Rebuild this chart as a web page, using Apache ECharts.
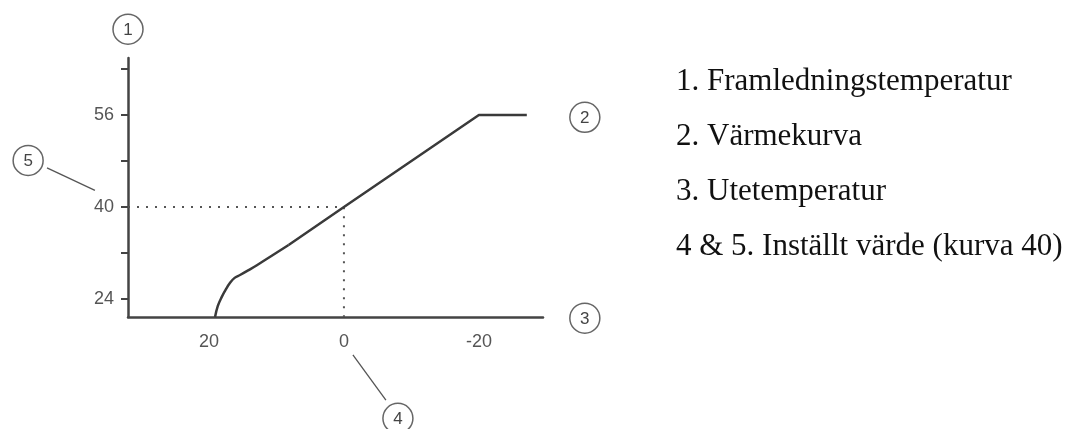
<!DOCTYPE html>
<html>
<head>
<meta charset="utf-8">
<script src="https://cdn.jsdelivr.net/npm/echarts@6/dist/echarts.min.js"></script>
<style>
  html, body { margin: 0; padding: 0; background: #fff; }
  #chart { width: 1080px; height: 429px; }
</style>
</head>
<body>
<div id="chart"></div>
<script>
// Outdoor temperature (°C) vs. flow temperature (°C) for heating curve 40
// Lower, curved section (warm weather)
const bendOutdoor = [19.1, 18.7, 18.1, 17.5, 16.9, 16.2, 15.4, 14.2, 12.9, 8.2];
const bendFlow    = [20.9, 22.8, 24.4, 25.7, 26.8, 27.7, 28.2, 29.0, 29.9, 33.4];
// Straight section up to the 56 °C limit
const lineOutdoor = [8.2, 0, -20, -27.1];
const lineFlow    = [33.4, 40, 56, 56];

// Set point: 40 °C flow at 0 °C outdoor
const setOutdoor = 0;
const setFlow = 40;

// Axis ranges and ticks
const xMin = -29.5, xMax = 32;
const yMin = 20.9, yMax = 65.9;
const xLabelValues = [20, 0, -20];
const yTickValues = [24, 32, 40, 48, 56, 64];
const yLabelValues = [24, 40, 56];

// Numbered callouts: position, number, optional leader line (data units)
const calloutNumbers = ['1', '2', '3', '4', '5'];
const calloutX = [32.0, -35.7, -35.7, -8.0, 46.8];
const calloutY = [70.9, 55.6, 20.7, 3.3, 48.1];
const leaderFrom = [null, null, null, [-1.33, 14.3], [44.0, 46.8]];
const leaderTo   = [null, null, null, [-6.22, 6.45], [36.9, 42.9]];

// Legend text on the right
const legendLines = [
  '1. Framledningstemperatur',
  '2. Värmekurva',
  '3. Utetemperatur',
  '4 & 5. Inställt värde (kurva 40)'
];

const chart = echarts.init(document.getElementById('chart'), null, { renderer: 'canvas' });

const axisColor = '#444';
const labelFont = { fontFamily: 'Liberation Sans, Arial, sans-serif', fontSize: 18, color: '#555' };
const curveStyle = { color: '#3a3a3a', width: 2.5 };

const bendData = bendOutdoor.map((x, i) => [x, bendFlow[i]]);
const lineData = lineOutdoor.map((x, i) => [x, lineFlow[i]]);
const guideData = [[xMax, setFlow], [setOutdoor, setFlow], [setOutdoor, yMin]];
const calloutData = calloutNumbers.map((n, i) => [calloutX[i], calloutY[i], i]);

chart.setOption({
  animation: false,
  backgroundColor: '#fff',
  grid: { left: 128, right: 537, top: 58, bottom: 112, containLabel: false },
  xAxis: {
    type: 'value',
    inverse: true,
    min: xMin,
    max: xMax,
    axisLine: { show: true, onZero: false, lineStyle: { color: axisColor, width: 2.5 } },
    axisTick: { show: false },
    splitLine: { show: false },
    axisLabel: {
      customValues: xLabelValues,
      margin: 16,
      ...labelFont
    }
  },
  yAxis: {
    type: 'value',
    min: yMin,
    max: yMax,
    axisLine: { show: true, onZero: false, lineStyle: { color: axisColor, width: 2.5 } },
    axisTick: {
      show: true,
      customValues: yTickValues,
      length: 7,
      lineStyle: { color: axisColor, width: 2 }
    },
    splitLine: { show: false },
    axisLabel: {
      customValues: yLabelValues,
      margin: 14,
      ...labelFont
    }
  },
  graphic: legendLines.map((t, i) => ({
    type: 'text',
    left: 676,
    top: 66 + i * 55,
    style: {
      text: t,
      font: '31px "Liberation Serif", "Times New Roman", serif',
      fill: '#111'
    }
  })),
  series: [
    {
      name: 'guide',
      type: 'line',
      data: guideData,
      symbol: 'none',
      silent: true,
      lineStyle: { color: '#555', width: 2, type: [2, 7] },
      z: 1
    },
    {
      name: 'Värmekurva (nedre)',
      type: 'line',
      data: bendData,
      symbol: 'none',
      smooth: 0.4,
      lineStyle: curveStyle,
      z: 3
    },
    {
      name: 'Värmekurva',
      type: 'line',
      data: lineData,
      symbol: 'none',
      smooth: false,
      lineStyle: curveStyle,
      z: 3
    },
    {
      name: 'callouts',
      type: 'custom',
      clip: false,
      silent: true,
      data: calloutData,
      renderItem: function (params, api) {
        const i = api.value(2);
        const c = api.coord([api.value(0), api.value(1)]);
        const children = [
          {
            type: 'circle',
            shape: { cx: c[0], cy: c[1], r: 15 },
            style: { fill: '#fff', stroke: '#666', lineWidth: 1.5 }
          },
          {
            type: 'text',
            x: c[0],
            y: c[1] + 1,
            style: {
              text: calloutNumbers[i],
              align: 'center',
              verticalAlign: 'middle',
              font: '17px "Liberation Sans", Arial, sans-serif',
              fill: '#444'
            }
          }
        ];
        if (leaderFrom[i]) {
          const a = api.coord(leaderFrom[i]);
          const b = api.coord(leaderTo[i]);
          children.push({
            type: 'line',
            shape: { x1: a[0], y1: a[1], x2: b[0], y2: b[1] },
            style: { stroke: '#555', lineWidth: 1.3 }
          });
        }
        return { type: 'group', children: children };
      },
      z: 5
    }
  ]
});
</script>
</body>
</html>
